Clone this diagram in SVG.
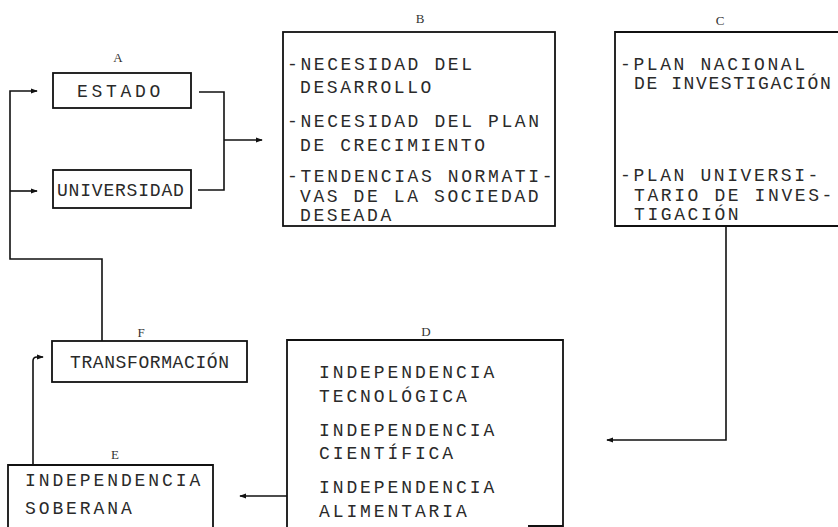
<svg xmlns="http://www.w3.org/2000/svg" width="838" height="527" viewBox="0 0 838 527">
<style>
.t{font-family:"Liberation Mono","Courier New",monospace;font-size:18px;fill:#2a2a2a}
.lb{font-family:"Liberation Serif","Times New Roman",serif;font-size:13px;fill:#333}
.box{fill:none;stroke:#111;stroke-width:1.8}
.cn{fill:none;stroke:#111;stroke-width:1.6}
.b{letter-spacing:2.6px}
.c{letter-spacing:2.6px}
.d{letter-spacing:2.9px}
</style>
<defs>
<marker id="ah" viewBox="0 0 8 8" refX="7" refY="4" markerWidth="7" markerHeight="7" markerUnits="userSpaceOnUse" orient="auto">
<path d="M0,1 L8,4 L0,7 z" fill="#111"/>
</marker>
</defs>
<rect width="838" height="527" fill="#fff"/>

<g id="connectors">
<path class="cn" d="M102,341 V259 H10 V91 H37" marker-end="url(#ah)"/>
<path class="cn" d="M10,191 H37" marker-end="url(#ah)"/>
<path class="cn" d="M199,92 H224 V190 H198"/>
<path class="cn" d="M224,140 H262" marker-end="url(#ah)"/>
<path class="cn" d="M726,226 V440 H607" marker-end="url(#ah)"/>
<path class="cn" d="M287,496 H240" marker-end="url(#ah)"/>
<path class="cn" d="M33,465 V361 Q33,357 37,357 H43" marker-end="url(#ah)"/>
</g>

<g id="nodeA">
<text class="lb" x="118" y="62" text-anchor="middle">A</text>
<rect class="box" x="53" y="73" width="138" height="35"/>
<text class="t" x="77" y="97" style="letter-spacing:3.7px">ESTADO</text>
</g>

<g id="nodeUniversidad">
<rect class="box" x="53" y="170" width="138" height="38"/>
<text class="t" x="57" y="196" style="letter-spacing:0.8px">UNIVERSIDAD</text>
</g>

<g id="nodeB">
<text class="lb" x="420" y="23" text-anchor="middle">B</text>
<rect class="box" x="283" y="32" width="272" height="194"/>
<text class="t b" x="287" y="70">-NECESIDAD DEL</text>
<text class="t b" x="300" y="93">DESARROLLO</text>
<text class="t b" x="287" y="127">-NECESIDAD DEL PLAN</text>
<text class="t b" x="300" y="151">DE CRECIMIENTO</text>
<text class="t b" x="287" y="182">-TENDENCIAS NORMATI-</text>
<text class="t b" x="300" y="202">VAS DE LA SOCIEDAD</text>
<text class="t b" x="300" y="221">DESEADA</text>
</g>

<g id="nodeC">
<text class="lb" x="720" y="25" text-anchor="middle">C</text>
<path class="box" d="M840,32 H615 V226 H840"/>
<text class="t c" x="620" y="70">-PLAN NACIONAL</text>
<text class="t c" x="634" y="89" style="letter-spacing:1.6px">DE INVESTIGACIÓN</text>
<text class="t c" x="620" y="181">-PLAN UNIVERSI-</text>
<text class="t c" x="634" y="201">TARIO DE INVES-</text>
<text class="t c" x="634" y="220">TIGACIÓN</text>
</g>

<g id="nodeD">
<text class="lb" x="426" y="336" text-anchor="middle">D</text>
<path class="box" d="M287,528 V340 H563 V526 H528"/>
<text class="t d" x="319" y="378">INDEPENDENCIA</text>
<text class="t d" x="319" y="402">TECNOLÓGICA</text>
<text class="t d" x="319" y="436">INDEPENDENCIA</text>
<text class="t d" x="319" y="459">CIENTÍFICA</text>
<text class="t d" x="319" y="493">INDEPENDENCIA</text>
<text class="t d" x="319" y="517">ALIMENTARIA</text>
</g>

<g id="nodeE">
<text class="lb" x="115" y="459" text-anchor="middle">E</text>
<path class="box" d="M8,528 V465 H213 V528"/>
<text class="t d" x="25" y="486">INDEPENDENCIA</text>
<text class="t d" x="25" y="514">SOBERANA</text>
</g>

<g id="nodeF">
<text class="lb" x="141" y="337" text-anchor="middle">F</text>
<rect class="box" x="52" y="341" width="195" height="41"/>
<text class="t" x="70" y="368" style="letter-spacing:0.6px">TRANSFORMACIÓN</text>
</g>
</svg>
